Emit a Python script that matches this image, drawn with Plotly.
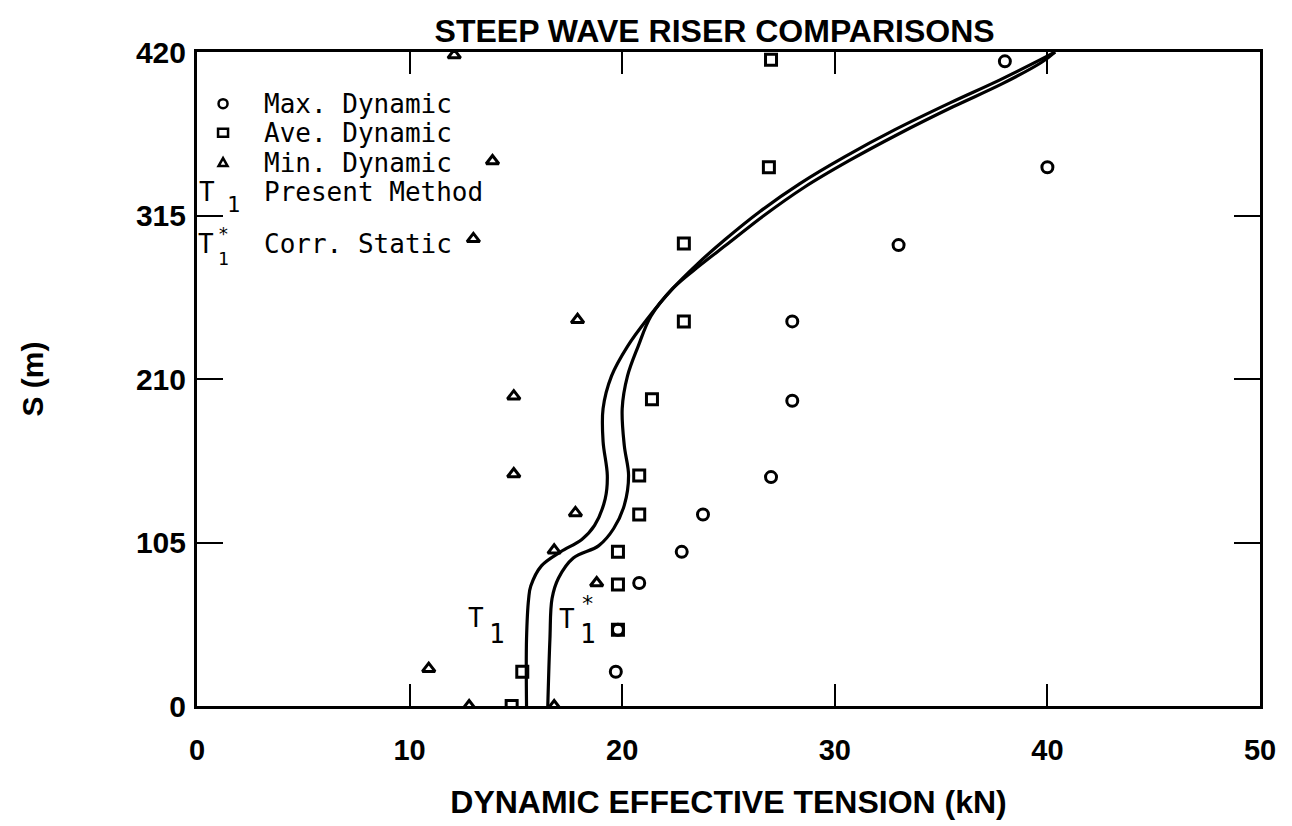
import plotly.graph_objects as go

# ---- data ----
max_T = [38.0, 40.0, 33.0, 28.0, 28.0, 27.0, 23.8, 22.8, 20.8, 19.8, 19.7]
max_S = [414, 346, 296, 247, 196, 147, 123, 99, 79, 49, 22]

ave_T = [27.0, 26.9, 22.9, 22.9, 21.4, 20.8, 20.8, 19.8, 19.8, 19.8, 15.3, 14.8]
ave_S = [415, 346, 297, 247, 197, 148, 123, 99, 78, 49, 22, 0]

min_T = [12.1, 13.9, 13.0, 17.9, 14.9, 14.9, 17.8, 16.8, 18.8, 10.9, 12.8, 16.8]
min_S = [418, 350, 300, 248, 199, 149, 124, 100, 79, 24, 0, 0]

# T1 : Present Method
t1_T = [15.5, 15.5, 15.6, 15.7, 16.2, 17.1, 18.1, 18.7, 19.2, 19.3, 19.1, 19.1,
        19.5, 20.25, 21.17, 22.34, 23.57, 24.84, 26.48, 28.36, 30.48, 32.83,
        35.42, 37.77, 39.65, 40.36]
t1_S = [0, 43, 69, 77, 90, 99, 107, 116, 133, 148, 170, 191,
        212, 231, 248.4, 267.6, 284.3, 299.6, 317.6, 335.5, 352.8, 370.1,
        387.3, 402.1, 414.9, 420]

# T1* : Corr. Static
t1s_T = [16.5, 16.6, 16.7, 17.0, 17.7, 18.9, 19.6, 20.1, 20.3, 20.1, 20.0,
         20.25, 20.75, 21.35, 22.39, 23.66, 24.98, 26.67, 28.55, 30.67, 33.02,
         35.56, 37.86, 39.75, 40.36]
t1s_S = [0, 43, 69, 82, 95, 103, 114, 129, 148, 167, 191,
         212, 231, 250.3, 268.3, 283, 297, 315, 333, 350.2, 367.5,
         384.8, 399.5, 413.6, 420]

x_ticks = [0, 10, 20, 30, 40, 50]
y_ticks = [0, 105, 210, 315, 420]

legend_rows = ["Max. Dynamic", "Ave. Dynamic", "Min. Dynamic", "Present Method", "Corr. Static"]

MONO = "DejaVu Sans Mono"
BOLD = "Liberation Sans"

fig = go.Figure()

mk = dict(color="black", size=11, line=dict(color="black", width=3))
fig.add_trace(go.Scatter(x=max_T, y=max_S, mode="markers",
                         marker=dict(symbol="circle-open", **mk), name=legend_rows[0]))
fig.add_trace(go.Scatter(x=ave_T, y=ave_S, mode="markers",
                         marker=dict(symbol="square-open", **mk), name=legend_rows[1]))
fig.add_trace(go.Scatter(x=min_T, y=min_S, mode="markers",
                         marker=dict(symbol="triangle-up-open", **mk), name=legend_rows[2]))
fig.add_trace(go.Scatter(x=t1_T, y=t1_S, mode="lines",
                         line=dict(color="black", width=3.2, shape="spline", smoothing=1.0),
                         name=legend_rows[3]))
fig.add_trace(go.Scatter(x=t1s_T, y=t1s_S, mode="lines",
                         line=dict(color="black", width=3.2, shape="spline", smoothing=1.0),
                         name=legend_rows[4]))

ann = []
def a(text, x, y, size=26, xanchor="center", ref="paper", font=MONO, yanchor="middle"):
    ann.append(dict(text=text, x=x, y=y, xref=ref if ref == "paper" else "x",
                    yref=ref if ref == "paper" else "y", showarrow=False,
                    xanchor=xanchor, yanchor=yanchor,
                    font=dict(family=font, size=size, color="black")))

# legend block: key symbols as layout shapes, labels as annotations
ys = [0.921, 0.8765, 0.831]
kx = 0.0245
shapes = [
    dict(type="circle", xref="paper", yref="paper", xsizemode="pixel", ysizemode="pixel",
         xanchor=kx, yanchor=ys[0], x0=-4.5, x1=4.5, y0=-4.5, y1=4.5,
         line=dict(color="black", width=2.5)),
    dict(type="rect", xref="paper", yref="paper", xsizemode="pixel", ysizemode="pixel",
         xanchor=kx, yanchor=ys[1], x0=-5, x1=5, y0=-4, y1=4,
         line=dict(color="black", width=2.5)),
    dict(type="path", xref="paper", yref="paper", xsizemode="pixel", ysizemode="pixel",
         xanchor=kx, yanchor=ys[2], path="M -4.5 -3.5 L 4.5 -3.5 L 0 4.5 Z",
         line=dict(color="black", width=2.5)),
]
for y_, t_ in zip(ys, legend_rows[:3]):
    a(t_, 0.061, y_, xanchor="left")
a("T", 0.0188, 0.7866, xanchor="right")
a("1", 0.0263, 0.7668, size=22, xanchor="left")
a(legend_rows[3], 0.061, 0.7866, xanchor="left")
a("T", 0.0179, 0.7058, xanchor="right")
a("*", 0.0179, 0.7027, size=18, xanchor="left", yanchor="bottom")
a("1", 0.0179, 0.7027, size=18, xanchor="left", yanchor="top")
a(legend_rows[4], 0.061, 0.7058, xanchor="left")

# in-plot curve labels (data coords)
a("T", 13.59, 56.3, ref="data", xanchor="right")
a("1", 13.64, 46.1, ref="data", xanchor="left")
a("T", 17.87, 55.7, ref="data", xanchor="right")
a("1", 17.92, 46.1, ref="data", xanchor="left")
a("*", 17.97, 66.0, size=22, ref="data", xanchor="left")

fig.update_layout(
    width=1292, height=826,
    margin=dict(l=197, r=32, t=52, b=118),
    paper_bgcolor="white", plot_bgcolor="white",
    showlegend=False,
    title=dict(text="STEEP WAVE RISER COMPARISONS", x=0.5531, xanchor="center",
               y=0.963, yanchor="middle",
               font=dict(family=BOLD, size=32, color="black", weight="bold")),
    annotations=ann,
    shapes=shapes,
)
fig.update_xaxes(range=[0, 50], tickvals=x_ticks, ticktext=[str(v) for v in x_ticks],
                 showgrid=False, zeroline=False, showline=True, linecolor="black",
                 linewidth=3, mirror="ticks", ticks="inside", ticklen=22, tickwidth=2,
                 tickcolor="black", ticklabelstandoff=16,
                 tickfont=dict(family=BOLD, size=29, color="black", weight="bold"),
                 title=dict(text="DYNAMIC EFFECTIVE TENSION (kN)", standoff=26,
                            font=dict(family=BOLD, size=32, color="black", weight="bold")))
fig.update_yaxes(range=[0, 420], tickvals=y_ticks, ticktext=[str(v) for v in y_ticks],
                 showgrid=False, zeroline=False, showline=True, linecolor="black",
                 linewidth=3, mirror="ticks", ticks="inside", ticklen=26, tickwidth=2,
                 tickcolor="black", ticklabelstandoff=2,
                 tickfont=dict(family=BOLD, size=30, color="black", weight="bold"),
                 title=dict(text="S (m)", standoff=84,
                            font=dict(family=BOLD, size=30, color="black", weight="bold")))

fig.write_html("out.html")
